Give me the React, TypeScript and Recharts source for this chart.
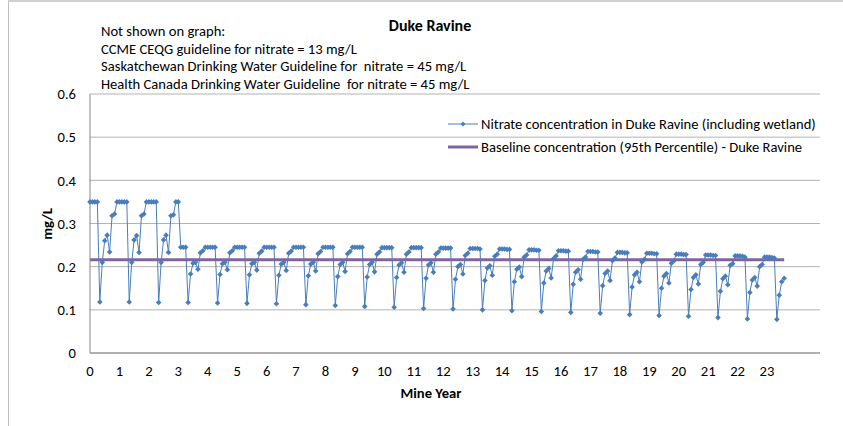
import { CartesianGrid, Legend, Line, LineChart, XAxis, YAxis } from "recharts";

// monthly nitrate values (mg/L), one row per mine year, months 0..11
const nitrateByYear: number[][] = [
  [0.35, 0.35, 0.35, 0.35, 0.118, 0.21, 0.26, 0.273, 0.234, 0.318, 0.322, 0.35],
  [0.35, 0.35, 0.35, 0.35, 0.118, 0.21, 0.262, 0.272, 0.233, 0.318, 0.322, 0.35],
  [0.35, 0.35, 0.35, 0.35, 0.117, 0.21, 0.262, 0.273, 0.233, 0.318, 0.32, 0.35],
  [0.35, 0.245, 0.245, 0.245, 0.117, 0.183, 0.208, 0.21, 0.194, 0.232, 0.237, 0.245],
  [0.245, 0.245, 0.245, 0.245, 0.116, 0.182, 0.207, 0.21, 0.193, 0.232, 0.237, 0.245],
  [0.245, 0.245, 0.245, 0.245, 0.115, 0.181, 0.207, 0.21, 0.192, 0.231, 0.236, 0.245],
  [0.245, 0.245, 0.245, 0.245, 0.114, 0.18, 0.206, 0.21, 0.191, 0.231, 0.236, 0.245],
  [0.245, 0.245, 0.245, 0.245, 0.112, 0.179, 0.206, 0.21, 0.19, 0.23, 0.235, 0.245],
  [0.245, 0.245, 0.245, 0.245, 0.11, 0.177, 0.205, 0.21, 0.189, 0.23, 0.235, 0.245],
  [0.245, 0.245, 0.245, 0.245, 0.108, 0.176, 0.205, 0.21, 0.188, 0.229, 0.234, 0.244],
  [0.244, 0.244, 0.244, 0.244, 0.106, 0.175, 0.204, 0.209, 0.187, 0.229, 0.234, 0.244],
  [0.244, 0.244, 0.244, 0.244, 0.103, 0.173, 0.204, 0.209, 0.187, 0.229, 0.234, 0.243],
  [0.243, 0.243, 0.243, 0.243, 0.102, 0.171, 0.2, 0.205, 0.183, 0.226, 0.231, 0.242],
  [0.242, 0.242, 0.242, 0.241, 0.1, 0.168, 0.197, 0.202, 0.18, 0.224, 0.229, 0.241],
  [0.241, 0.241, 0.24, 0.24, 0.098, 0.165, 0.194, 0.199, 0.177, 0.222, 0.227, 0.239],
  [0.239, 0.239, 0.238, 0.238, 0.096, 0.162, 0.19, 0.196, 0.174, 0.219, 0.225, 0.237],
  [0.237, 0.237, 0.236, 0.236, 0.094, 0.159, 0.187, 0.193, 0.171, 0.217, 0.222, 0.235],
  [0.235, 0.235, 0.234, 0.234, 0.092, 0.156, 0.184, 0.19, 0.168, 0.214, 0.22, 0.233],
  [0.233, 0.233, 0.232, 0.232, 0.089, 0.153, 0.181, 0.187, 0.165, 0.211, 0.217, 0.231],
  [0.231, 0.231, 0.23, 0.23, 0.087, 0.15, 0.178, 0.184, 0.162, 0.208, 0.213, 0.229],
  [0.229, 0.229, 0.228, 0.228, 0.085, 0.147, 0.175, 0.181, 0.16, 0.205, 0.21, 0.227],
  [0.227, 0.227, 0.226, 0.226, 0.082, 0.143, 0.172, 0.178, 0.158, 0.203, 0.207, 0.225],
  [0.225, 0.225, 0.224, 0.222, 0.079, 0.14, 0.169, 0.175, 0.155, 0.2, 0.205, 0.222],
  [0.222, 0.222, 0.221, 0.22, 0.078, 0.134, 0.165, 0.173],
];

const baselineValue = 0.216;
const yearTicks = [0, 1, 2, 3, 4, 5, 6, 7, 8, 9, 10, 11, 12, 13, 14, 15, 16, 17, 18, 19, 20, 21, 22, 23];
const concTicks = [0, 0.1, 0.2, 0.3, 0.4, 0.5, 0.6];
const notes = [
  "Not shown on graph:",
  "CCME CEQG guideline for nitrate = 13 mg/L",
  "Saskatchewan Drinking Water Guideline for  nitrate = 45 mg/L",
  "Health Canada Drinking Water Guideline  for nitrate = 45 mg/L",
];

const data = nitrateByYear.flatMap((row, y) =>
  row.map((v, m) => ({ year: y + m / 12, nitrate: v, baseline: baselineValue }))
);

const BLUE = "#4a7ebb";
const PURPLE = "#8064a2";
const FONT = "Carlito, Calibri, Lato, sans-serif";

function Diamond(props: any) {
  const { cx, cy } = props;
  if (cx == null || cy == null) return null;
  return <path d={`M${cx},${cy - 2.8}L${cx + 2.8},${cy}L${cx},${cy + 2.8}L${cx - 2.8},${cy}Z`} fill={BLUE} />;
}

function LegendBox() {
  return (
    <div style={{ fontFamily: FONT, fontSize: 14.6, color: "#000", whiteSpace: "nowrap" }}>
      <div style={{ display: "flex", alignItems: "center", height: 23 }}>
        <svg width={33} height={10}>
          <line x1={0} y1={5} x2={30} y2={5} stroke={BLUE} strokeWidth={1} />
          <path d="M15,2.5L17.5,5L15,7.5L12.5,5Z" fill={BLUE} />
        </svg>
        <span>Nitrate concentration in Duke Ravine (including wetland)</span>
      </div>
      <div style={{ display: "flex", alignItems: "center", height: 23 }}>
        <svg width={33} height={10}>
          <line x1={0} y1={5} x2={30} y2={5} stroke={PURPLE} strokeWidth={3} />
        </svg>
        <span>Baseline concentration (95th Percentile) - Duke Ravine</span>
      </div>
    </div>
  );
}

export default function App() {
  return (
    <div style={{ position: "absolute", left: 0, top: 0, width: 843, height: 426, background: "#fff", fontFamily: FONT }}>
      <div style={{ position: "absolute", left: 8, top: 0, width: 1, height: 426, background: "#bfbfbf" }} />
      <div style={{ position: "absolute", left: 8, top: 0, width: 835, height: 2, background: "#d0d0d0" }} />
      <div style={{ position: "absolute", left: 330, width: 200, top: 16, textAlign: "center", fontWeight: "bold", fontSize: 16 }}>
        Duke Ravine
      </div>
      <div style={{ position: "absolute", left: 101, top: 23, fontSize: 14.6, lineHeight: "17.7px", whiteSpace: "pre" }}>
        {notes.map((n) => (
          <div key={n}>{n}</div>
        ))}
      </div>
      <LineChart width={843} height={426} data={data} margin={{ top: 94, right: 23, bottom: 33, left: 30 }}>
        <CartesianGrid vertical={false} stroke="#b3b3b3" />
        <XAxis
          type="number"
          dataKey="year"
          domain={[0, 24.8]}
          ticks={yearTicks}
          interval={0}
          height={40}
          stroke="#868686"
          tickLine={false}
          tickSize={6}
          tickMargin={7}
          tick={{ fill: "#000", fontSize: 14.6, fontFamily: FONT }}
        />
        <YAxis
          type="number"
          domain={[0, 0.6]}
          ticks={concTicks}
          interval={0}
          width={60}
          stroke="#868686"
          tickLine={false}
          tickSize={6}
          tickMargin={8}
          tick={{ fill: "#000", fontSize: 14.6, fontFamily: FONT }}
        />
        <Legend
          layout="vertical"
          align="center"
          verticalAlign="middle"
          wrapperStyle={{ left: 448, top: 112, width: 390 }}
          content={() => <LegendBox />}
        />
        <Line
          type="linear"
          dataKey="nitrate"
          stroke={BLUE}
          strokeWidth={1}
          dot={<Diamond />}
          activeDot={false}
          isAnimationActive={false}
        />
        <Line
          type="linear"
          dataKey="baseline"
          stroke={PURPLE}
          strokeWidth={3}
          dot={false}
          activeDot={false}
          isAnimationActive={false}
        />
      </LineChart>
      <div style={{ position: "absolute", left: 331, width: 200, top: 384, textAlign: "center", fontWeight: "bold", fontSize: 14.6 }}>
        Mine Year
      </div>
      <div
        style={{
          position: "absolute",
          left: 47,
          top: 224,
          transform: "translate(-50%, -50%) rotate(-90deg)",
          fontWeight: "bold",
          fontSize: 14.6,
        }}
      >
        mg/L
      </div>
    </div>
  );
}
